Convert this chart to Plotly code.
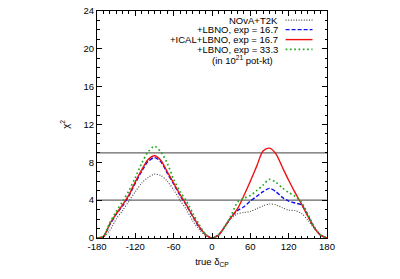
import plotly.graph_objects as go

delta = [-180, -170, -160, -150, -140, -130, -120, -110, -100, -90, -80, -70, -60, -50, -40, -30, -20, -10, 0,
         10, 20, 30, 40, 50, 60, 70, 80, 90, 100, 110, 120, 130, 140, 150, 160, 170, 180]

chi_nova_t2k = [0, 0.1, 0.8, 2.0, 2.9, 3.9, 4.9, 5.8, 6.4, 6.75, 6.6, 6.0, 5.1, 4.0, 3.0, 1.8, 0.9, 0.25, 0,
                0.3, 1.2, 2.1, 2.55, 2.7, 2.8, 3.1, 3.4, 3.6, 3.5, 3.2, 2.95, 2.9, 2.6, 1.9, 1.0, 0.3, 0]
chi_lbno_167 = [0, 0.15, 1.4, 2.5, 3.4, 4.45, 5.8, 7.05, 8.1, 8.5, 8.05, 6.85, 5.7, 4.5, 3.45, 2.25, 1.15, 0.35, 0,
                0.3, 1.2, 2.2, 2.9, 3.3, 3.9, 4.4, 4.9, 5.25, 4.9, 4.3, 3.9, 3.7, 3.5, 2.4, 1.1, 0.3, 0]
chi_ical_lbno_167 = [0, 0.15, 1.5, 2.55, 3.5, 4.55, 5.95, 7.2, 8.3, 8.7, 8.2, 7.0, 5.8, 4.6, 3.5, 2.3, 1.2, 0.35, 0,
                     0.3, 1.2, 2.2, 3.1, 4.5, 6.0, 7.6, 9.2, 9.5, 8.9, 7.5, 6.1, 4.8, 3.6, 2.3, 1.1, 0.3, 0]
chi_lbno_333 = [0, 0.2, 1.6, 2.8, 3.85, 5.0, 6.4, 7.9, 9.1, 9.7, 9.1, 7.9, 6.2, 4.9, 3.9, 2.6, 1.4, 0.4, 0,
                0.3, 1.2, 2.4, 3.8, 4.2, 4.5, 5.0, 5.6, 6.2, 5.9, 5.3, 4.8, 4.4, 3.8, 2.5, 1.2, 0.3, 0]

ref_levels = [4, 9]
x_ticks = [-180, -120, -60, 0, 60, 120, 180]
y_ticks = [0, 4, 8, 12, 16, 20, 24]

legend_labels = ["NOvA+T2K", "+LBNO, exp = 16.7", "+ICAL+LBNO, exp = 16.7", "+LBNO, exp = 33.3"]
series = [chi_nova_t2k, chi_lbno_167, chi_ical_lbno_167, chi_lbno_333]
styles = [
    dict(color="#444444", width=1.1, dash="1px,1.6px"),
    dict(color="#1010ee", width=1.4, dash="4px,2px"),
    dict(color="#ee1111", width=1.4, dash="solid"),
    dict(color="#22aa22", width=1.7, dash="1.7px,2.6px"),
]

FONT = "Liberation Sans, Arial, sans-serif"

fig = go.Figure()
for lbl, ys, st in zip(legend_labels, series, styles):
    fig.add_trace(go.Scatter(x=delta, y=ys, mode="lines", name=lbl,
                             line=dict(color=st["color"], width=st["width"], dash=st["dash"], shape="spline", smoothing=0.8),
                             showlegend=False))

for lv in ref_levels:
    fig.add_shape(type="line", xref="x", yref="y", x0=-180, x1=180, y0=lv, y1=lv,
                  line=dict(color="#666666", width=1.3), layer="below")

# legend (text right-aligned, sample to the right)
row_y = [0.960, 0.918, 0.874, 0.831]
for lbl, st, yy in zip(legend_labels, styles, row_y):
    fig.add_annotation(xref="paper", yref="paper", x=0.797, y=yy, text=lbl, showarrow=False,
                       xanchor="right", yanchor="middle", font=dict(family=FONT, size=9.5, color="black"))
    fig.add_shape(type="line", xref="paper", yref="paper", x0=0.82, x1=0.937, y0=yy, y1=yy,
                  line=dict(color=st["color"], width=st["width"], dash=st["dash"]))
fig.add_annotation(xref="paper", yref="paper", x=0.775, y=0.784, text="(in 10<sup>21</sup> pot-kt)", showarrow=False,
                   xanchor="right", yanchor="middle", font=dict(family=FONT, size=9.5, color="black"))

axis_common = dict(showline=True, linecolor="black", linewidth=1, mirror="allticks",
                   ticks="inside", ticklen=5, tickcolor="black", tickwidth=1,
                   showgrid=False, zeroline=False, ticklabeloverflow="allow", automargin=False,
                   tickfont=dict(family=FONT, size=9.5, color="black"))

fig.update_xaxes(range=[-180, 180], tickvals=x_ticks, ticktext=[str(v) for v in x_ticks],
                 minor=dict(dtick=10, tick0=0, ticks="inside", ticklen=2.5, tickcolor="black", showgrid=False),
                 title=dict(text="true δ<sub>CP</sub>", font=dict(family=FONT, size=9.5, color="black"), standoff=6),
                 **axis_common)
fig.update_yaxes(range=[0, 24], tickvals=y_ticks, ticktext=[str(v) for v in y_ticks],
                 minor=dict(dtick=1, tick0=0, ticks="inside", ticklen=2.5, tickcolor="black", showgrid=False),
                 title=dict(text="χ<sup>2</sup>", font=dict(family=FONT, size=9.5, color="black"), standoff=12),
                 **axis_common)

fig.update_layout(width=400, height=279, margin=dict(l=97, r=73, t=11, b=41, autoexpand=False),
                  paper_bgcolor="white", plot_bgcolor="white", showlegend=False,
                  font=dict(family=FONT, size=9.5, color="black"))

# remove the browser's default 8px body margin so the figure fills the window exactly
fig.write_html("out.html", config={"displayModeBar": False},
               post_script="document.body.style.margin='0';")
